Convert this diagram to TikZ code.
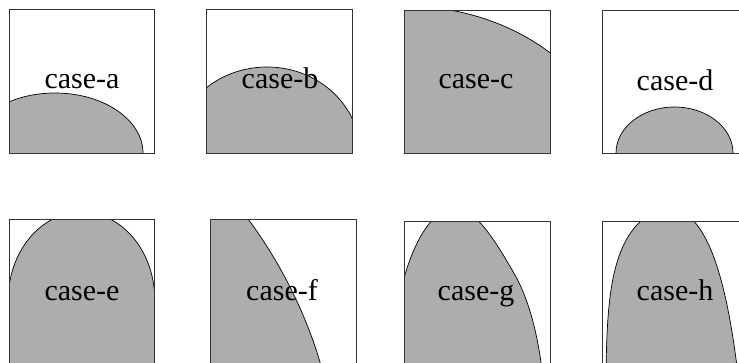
\documentclass[tikz,border=0pt]{standalone}
\usepackage{fontspec}
\setmainfont{Liberation Serif}
\usepackage{xcolor}
\usepackage{tikz}
\tikzset{frame/.style={draw=black!80,line width=0.8pt},
         blob/.style={fill=black!32,draw=black,line width=0.7pt},
         lbl/.style={font=\fontsize{30}{30}\selectfont,inner sep=0pt,anchor=base}}

\begin{document}
\begin{tikzpicture}[x=1pt,y=-1pt]
\useasboundingbox (0,0) rectangle (739,362);
\clip (0,0) rectangle (739,362);
% case-a
\begin{scope}
  \clip (9,9) rectangle (154,153);
  \draw[blob] (55,153) ellipse [x radius=88pt,y radius=60pt];
\end{scope}
\draw[frame] (9,9) rectangle (154,153);
\node[lbl] (lblA) at (82,88) {case-a};
% case-b
\begin{scope}
  \clip (206,9) rectangle (352,153);
  \draw[blob] (267,153) ellipse [x radius=93pt,y radius=86pt];
\end{scope}
\draw[frame] (206,9) rectangle (352,153);
\node[lbl] (lblB) at (280,88) {case-b};
% case-c
\begin{scope}
  \clip (404,10) rectangle (550,153);
  \draw[blob] (404,180) ellipse [x radius=214pt,y radius=174pt];
\end{scope}
\draw[frame] (404,10) rectangle (550,153);
\node[lbl] (lblC) at (476,88) {case-c};
% case-d (right side runs off the page)
\begin{scope}
  \clip (602,10) rectangle (748,153);
  \draw[blob] (674.5,153) ellipse [x radius=58.5pt,y radius=46pt];
\end{scope}
\draw[frame] (602,10) rectangle (748,153);
\node[lbl] (lblD) at (675,90) {case-d};
% case-e
\begin{scope}
  \clip (9,219) rectangle (154,375);
  \fill[black!32] (8.2,375) -- (8.2,300)
     arc[start angle=180,end angle=0,x radius=73.3pt,y radius=87.9pt]
     -- (154.8,375) -- cycle;
  \draw[black,line width=0.7pt] (8.2,300)
     arc[start angle=180,end angle=0,x radius=73.3pt,y radius=87.9pt];
\end{scope}
\draw[frame] (9,219) rectangle (154,375);
\node[lbl] (lblE) at (82,300) {case-e};
% case-f
\begin{scope}
  \clip (210,219) rectangle (356,375);
  \draw[blob] (200,210) -- (244,210) -- (248,219)
     .. controls (275,255) and (303,305) .. (320,362)
     -- (323,380) -- (200,380) -- cycle;
\end{scope}
\draw[frame] (210,219) rectangle (356,375);
\node[lbl] (lblF) at (282,300) {case-f};
% case-g
\begin{scope}
  \clip (404,221) rectangle (550,375);
  \draw[blob] (400,295) .. controls (412,238) and (435,208) .. (455,208)
     .. controls (475,208) and (495,240) .. (515,275)
     .. controls (530,302) and (537,335) .. (541,362)
     -- (544,380) -- (395,380) -- (395,295) -- cycle;
\end{scope}
\draw[frame] (404,221) rectangle (550,375);
\node[lbl] (lblG) at (476,300) {case-g};
% case-h
\begin{scope}
  \clip (602,221) rectangle (748,375);
  \draw[blob] (606,375) .. controls (607,290) and (612,225) .. (665,207)
     .. controls (703,207) and (725,265) .. (738,375) -- cycle;
\end{scope}
\draw[frame] (602,221) rectangle (748,375);
\node[lbl] (lblH) at (675,300) {case-h};
\end{tikzpicture}
\end{document}
